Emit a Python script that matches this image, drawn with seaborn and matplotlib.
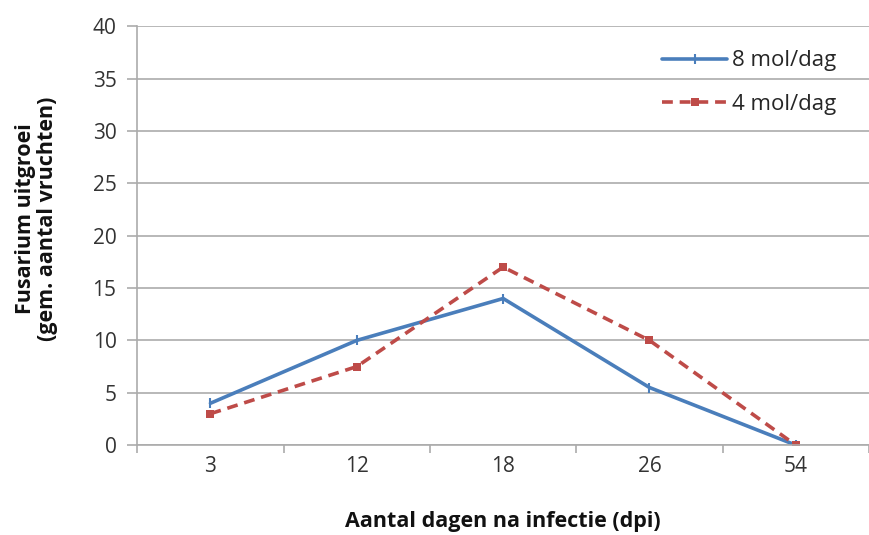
import matplotlib
matplotlib.use("Agg")
import matplotlib.pyplot as plt
import seaborn as sns
import pandas as pd
import numpy as np

days = ["3", "12", "18", "26", "54"]
series_8 = [4.0, 10.0, 14.0, 5.5, 0.0]
series_4 = [3.0, 7.5, 17.0, 10.0, 0.0]
labels = ["8 mol/dag", "4 mol/dag"]

sns.set_theme(style="white")
plt.rcParams['font.family'] = ['Open Sans', 'DejaVu Sans']

df8 = pd.DataFrame({"dag": days, "waarde": series_8})
df4 = pd.DataFrame({"dag": days, "waarde": series_4})

fig = plt.figure(figsize=(8.69, 5.35), dpi=100)
ax = fig.add_axes([0.158, 0.168, 0.842, 0.783])

blue = "#4a7ebb"
red = "#be4b48"
sns.lineplot(data=df8, x="dag", y="waarde", color=blue, marker="|",
             markersize=7, markeredgewidth=1.5, markeredgecolor=blue,
             linewidth=2.6, sort=False, label=labels[0], ax=ax)
sns.lineplot(data=df4, x="dag", y="waarde", color=red, marker="s",
             markersize=6, markeredgewidth=0, linewidth=2.6,
             linestyle=(0, (3.0, 1.9)), sort=False, label=labels[1], ax=ax)

ax.set_ylim(0, 40)
ax.set_yticks(np.arange(0, 41, 5))
ax.set_xlim(-0.5, 4.5)
ax.set_xticks(range(len(days)))
ax.set_xticklabels(days)
ax.set_xticks(np.arange(-0.5, 4.6, 1.0), minor=True)

grid_c = "#ababab"
ax.yaxis.grid(True, color=grid_c, linewidth=1.2)
ax.xaxis.grid(False)
ax.set_axisbelow(True)
for s in ["top", "right"]:
    ax.spines[s].set_visible(False)
for s in ["left", "bottom"]:
    ax.spines[s].set_color(grid_c)
    ax.spines[s].set_linewidth(1.2)

ax.tick_params(axis="y", which="major", left=True, length=7, color=grid_c,
               width=1.2, labelsize=15, labelcolor="#333333", pad=8)
ax.tick_params(axis="x", which="major", bottom=False, length=0, labelsize=15,
               labelcolor="#333333", pad=8)
ax.tick_params(axis="x", which="minor", bottom=True, length=6,
               color=grid_c, width=1.2)

ax.set_xlabel("Aantal dagen na infectie (dpi)", fontsize=15.5, fontweight="bold",
              labelpad=24, color="#111111")
ax.set_ylabel("Fusarium uitgroei\n(gem. aantal vruchten)", fontsize=15.5,
              fontweight="bold", labelpad=25, color="#111111",
              linespacing=1.05, y=0.54)

ax.legend(loc="upper right", bbox_to_anchor=(0.983, 0.99), frameon=False,
          fontsize=16, handlelength=2.9, labelspacing=1.0, handletextpad=0.25)

fig.savefig("out.png", dpi=100)
